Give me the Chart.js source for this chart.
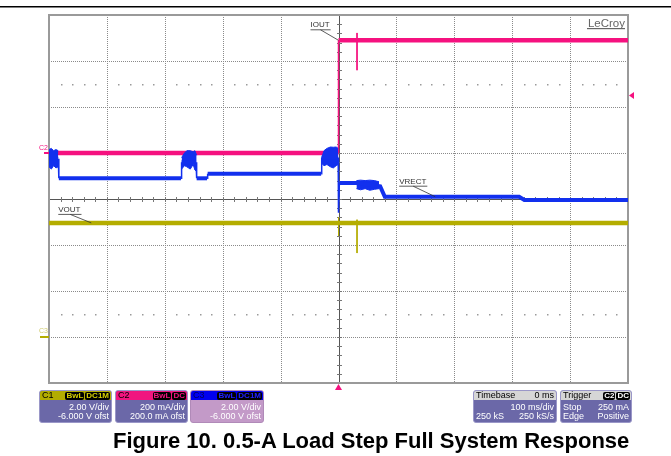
<!DOCTYPE html>
<html><head><meta charset="utf-8">
<script src="https://cdn.jsdelivr.net/npm/chart.js@4.4.1/dist/chart.umd.min.js"></script>
<style>
html,body{margin:0;padding:0;background:#fff;width:671px;height:456px;overflow:hidden;font-family:"Liberation Sans",Arial,sans-serif;}
#wrap{position:relative;width:671px;height:456px;}
canvas{position:absolute;left:0;top:0;}
.box{position:absolute;top:390px;height:33px;border-radius:3px;background:#6b68a8;color:#fff;font-size:9px;overflow:hidden;box-sizing:border-box;border:1px solid #9a97c8;}
.hdr{position:absolute;left:0;right:0;top:0;height:9px;line-height:9px;padding:0 2px;color:#000;}
.r1,.r2{position:absolute;left:2px;right:2px;height:9px;line-height:9px;}
.r1{top:12px}.r2{top:21px}
.rt{position:absolute;right:0;top:0}
.lt{position:absolute;left:0;top:0}
.bd{display:inline-block;background:#000;border-radius:2px;padding:0 1px;margin-left:1px;font-size:8px;line-height:8px;font-weight:bold;}
#cap{position:absolute;left:113px;top:429px;font-size:22px;font-weight:bold;color:#000;white-space:nowrap;line-height:24px;}
</style></head>
<body><div id="wrap">
<canvas id="c" width="671" height="456"></canvas>
<div class="box" style="left:39px;width:73px;">
  <div class="hdr" style="background:#b3ac00;">C1<span class="rt" style="right:1px;top:0"><span class="bd" style="color:#d8d000">BwL</span><span class="bd" style="color:#d8d000">DC1M</span></span></div>
  <div class="r1"><span class="rt">2.00 V/div</span></div>
  <div class="r2"><span class="rt">-6.000 V ofst</span></div>
</div>
<div class="box" style="left:115px;width:73px;">
  <div class="hdr" style="background:#f0157f;">C2<span class="rt" style="right:1px;top:0"><span class="bd" style="color:#f0157f">BwL</span><span class="bd" style="color:#f0157f">DC</span></span></div>
  <div class="r1"><span class="rt">200 mA/div</span></div>
  <div class="r2"><span class="rt">200.0 mA ofst</span></div>
</div>
<div class="box" style="left:190px;width:74px;background:#c39ac8;border-color:#b08ab8;">
  <div class="hdr" style="background:#0000f0;color:#000060;">C3<span class="rt" style="right:1px;top:0"><span class="bd" style="color:#2020ff">BwL</span><span class="bd" style="color:#2020ff">DC1M</span></span></div>
  <div class="r1"><span class="rt">2.00 V/div</span></div>
  <div class="r2"><span class="rt">-6.000 V ofst</span></div>
</div>
<div class="box" style="left:473px;width:84px;">
  <div class="hdr" style="background:#d6d6d6;">Timebase<span class="rt" style="right:2px">0 ms</span></div>
  <div class="r1"><span class="rt">100 ms/div</span></div>
  <div class="r2"><span class="lt">250 kS</span><span class="rt">250 kS/s</span></div>
</div>
<div class="box" style="left:560px;width:72px;">
  <div class="hdr" style="background:#d6d6d6;">Trigger<span class="rt" style="right:1px"><span class="bd" style="color:#fff">C2</span><span class="bd" style="color:#fff">DC</span></span></div>
  <div class="r1"><span class="lt">Stop</span><span class="rt">250 mA</span></div>
  <div class="r2"><span class="lt">Edge</span><span class="rt">Positive</span></div>
</div>
<div id="cap">Figure 10. 0.5-A Load Step Full System Response</div>
</div>
<script>
// ---- scope setup: 100 ms/div, 10 divisions; trigger at 0 ms ----
const timeRange = [-500, 500];          // ms
const voltRange = [-2, 14];             // C1 / C3: 2.00 V/div, -6.000 V ofst
const currRange = [-1000, 600];         // C2: 200 mA/div, 200.0 mA ofst
const timeDivs = [-400, -300, -200, -100, 0, 100, 200, 300, 400];
const voltDivs = [0, 2, 4, 6, 8, 10, 12];
const centerV = 6;

// ---- IOUT (C2, mA) ----
const ioutT = [-500, 0, 0, 500];
const ioutI = [0, 0, 490, 490];
const ioutSpikeT = [32, 32];
const ioutSpikeI = [522, 360];

// ---- VOUT (C1, V) ----
const voutT = [-500, 500];
const voutV = [4.96, 4.96];
const voutSpikeT = [32, 32];
const voutSpikeV = [5.1, 3.65];
const voutStepT = [0, 0];
const voutStepV = [5.2, 4.4];

// ---- VRECT (C3, V) ----
const vrectT = [-500, -484, -483, -272, -271, -246, -245, -227, -226, -30, -29, -0.5, 0, 1.5, 31, 72, 80, 312, 321, 500];
const vrectV = [7.75, 7.75, 6.9, 6.9, 7.6, 7.6, 6.9, 6.9, 7.1, 7.1, 7.8, 7.8, 5.4, 6.7, 6.7, 6.55, 6.1, 6.1, 5.96, 5.96];
// noisy (switching) bands: time, upper envelope, lower envelope
const band1T = [-500, -496, -492, -488, -484];
const band1Hi = [8.15, 8.2, 8.1, 8.15, 8.1];
const band1Lo = [7.4, 7.3, 7.45, 7.35, 7.4];
const band2T = [-271, -266, -262, -256, -251, -248, -245];
const band2Hi = [7.8, 8.0, 8.1, 8.1, 8.05, 8.1, 7.9];
const band2Lo = [7.3, 7.45, 7.4, 7.3, 7.5, 7.26, 7.2];
const band3T = [-29, -25, -20, -14, -9, -4, -0.5];
const band3Hi = [7.8, 8.1, 8.2, 8.26, 8.25, 8.26, 8.2];
const band3Lo = [7.55, 7.45, 7.5, 7.4, 7.35, 7.45, 7.5];
const band4T = [31, 38, 46, 54, 62, 70];
const band4Hi = [6.8, 6.82, 6.8, 6.82, 6.8, 6.75];
const band4Lo = [6.45, 6.4, 6.45, 6.38, 6.42, 6.45];

const MAG = '#f5117f', BLU = '#1230ee', YEL = '#b4ad00';
const pts = (t, v) => t.map((x, i) => ({x, y: v[i]}));
const thinVert = {borderWidth: c => Math.abs(c.p1.x - c.p0.x) < 2 ? 1.5 : undefined};

function line(d, color, w, axis, order, extra) {
  return Object.assign({data: d, borderColor: color, backgroundColor: color, borderWidth: w, yAxisID: axis,
    pointRadius: 0, tension: 0, fill: false, order: order, borderCapStyle: 'butt'}, extra || {});
}

const datasets = [
  line(pts(vrectT, vrectV), BLU, 4, 'yV', 1, {segment: thinVert}),
  line(pts(band1T, band1Hi), BLU, 1, 'yV', 1),
  line(pts(band1T, band1Lo), BLU, 1, 'yV', 1, {fill: '-1'}),
  line(pts(band2T, band2Hi), BLU, 1, 'yV', 1),
  line(pts(band2T, band2Lo), BLU, 1, 'yV', 1, {fill: '-1'}),
  line(pts(band3T, band3Hi), BLU, 1, 'yV', 1),
  line(pts(band3T, band3Lo), BLU, 1, 'yV', 1, {fill: '-1'}),
  line(pts(band4T, band4Hi), BLU, 1, 'yV', 1),
  line(pts(band4T, band4Lo), BLU, 1, 'yV', 1, {fill: '-1'}),
  line(pts(ioutT, ioutI), MAG, 4.5, 'yI', 2, {segment: thinVert}),
  line(pts(ioutSpikeT, ioutSpikeI), MAG, 1, 'yI', 2),
  line(pts(voutT, voutV), YEL, 4.5, 'yV', 3),
  line(pts(voutSpikeT, voutSpikeV), YEL, 1, 'yV', 3),
  line(pts(voutStepT, voutStepV), YEL, 1, 'yV', 3),
];

const scopeGrid = {
  id: 'scopeGrid',
  beforeDatasetsDraw(chart) {
    const {ctx, chartArea: a, scales: {x, yV}} = chart;
    ctx.save();
    // top rule of the page
    ctx.fillStyle = '#000';
    ctx.fillRect(0, 6, 671, 1.5);
    // dotted division grid
    ctx.strokeStyle = '#8a8a8a'; ctx.lineWidth = 1; ctx.setLineDash([1, 1]);
    const seg = (x1, y1, x2, y2) => { ctx.beginPath(); ctx.moveTo(x1, y1); ctx.lineTo(x2, y2); ctx.stroke(); };
    timeDivs.forEach(t => { if (t === 0) return; const p = Math.round(x.getPixelForValue(t)) + 0.5; seg(p, a.top, p, a.bottom); });
    voltDivs.forEach(v => { if (v === centerV) return; const p = Math.round(yV.getPixelForValue(v)) + 0.5; seg(a.left, p, a.right, p); });
    ctx.setLineDash([]);
    // minor dot rows
    ctx.fillStyle = '#9a9a9a';
    [11, 1].forEach(v => {
      const py = Math.round(yV.getPixelForValue(v));
      for (let t = -480; t < 500; t += 20) { if (t % 100 === 0) continue; ctx.fillRect(Math.round(x.getPixelForValue(t)), py, 1.5, 1.5); }
    });
    // center cross with ticks
    const cx = Math.round(x.getPixelForValue(0)) + 0.5, cy = Math.round(yV.getPixelForValue(centerV)) + 0.5;
    ctx.strokeStyle = '#555'; ctx.lineWidth = 1;
    seg(cx, a.top, cx, a.bottom); seg(a.left, cy, a.right, cy);
    ctx.strokeStyle = '#777';
    for (let t = -480; t < 500; t += 20) { const p = Math.round(x.getPixelForValue(t)) + 0.5; seg(p, cy - 2.5, p, cy + 2.5); }
    for (let v = voltRange[0] + 0.4; v < voltRange[1]; v += 0.4) { const p = Math.round(yV.getPixelForValue(v)) + 0.5; seg(cx - 2.5, p, cx + 2.5, p); }
    // frame
    ctx.strokeStyle = '#9a9a9a'; ctx.lineWidth = 2;
    ctx.strokeRect(a.left, a.top, a.right - a.left, a.bottom - a.top);
    ctx.restore();
  },
  afterDatasetsDraw(chart) {
    const {ctx, chartArea: a, scales: {x, yV, yI}} = chart;
    ctx.save();
    ctx.font = '8px "Liberation Sans", Arial, sans-serif';
    ctx.fillStyle = '#333'; ctx.strokeStyle = '#333'; ctx.lineWidth = 0.8;
    const seg = (x1, y1, x2, y2) => { ctx.beginPath(); ctx.moveTo(x1, y1); ctx.lineTo(x2, y2); ctx.stroke(); };
    function tag(text, px, py, dx, dy, legX) {
      ctx.fillText(text, px + dx, py + dy);
      const w = ctx.measureText(text).width;
      seg(px + dx, py + dy + 2.5, px + dx + w + 1, py + dy + 2.5);
      seg(px + dx + legX, py + dy + 2.5, px, py);
    }
    tag('IOUT', x.getPixelForValue(0), yI.getPixelForValue(490), -28, -13, 10);
    tag('VRECT', x.getPixelForValue(167), yV.getPixelForValue(6.1), -36, -13, 14);
    tag('VOUT', x.getPixelForValue(-427), yV.getPixelForValue(4.96), -33, -11, 12);
    // LeCroy logo
    ctx.font = '11.5px "Liberation Sans", Arial, sans-serif';
    ctx.fillStyle = '#666';
    ctx.textAlign = 'right';
    ctx.fillText('LeCroy', a.right - 3, a.top + 12);
    ctx.fillRect(a.right - 41, a.top + 13, 38, 1.2);
    ctx.textAlign = 'left';
    // channel ground markers
    ctx.font = '7px "Liberation Sans", Arial, sans-serif';
    const g2 = yI.getPixelForValue(0);
    ctx.fillStyle = MAG; ctx.fillText('C2', a.left - 10, g2 - 3);
    ctx.fillRect(a.left - 5, g2 - 1, 5, 2);
    const g1 = yV.getPixelForValue(0);
    ctx.fillStyle = '#d0cc70'; ctx.fillText('C3', a.left - 10, g1 - 4);
    ctx.fillStyle = YEL; ctx.fillRect(a.left - 9, g1 - 1, 9, 2);
    // trigger level marker (250 mA) on the right
    const tl = yI.getPixelForValue(250);
    ctx.fillStyle = MAG;
    ctx.beginPath(); ctx.moveTo(a.right + 1, tl); ctx.lineTo(a.right + 6, tl - 3.5); ctx.lineTo(a.right + 6, tl + 3.5); ctx.closePath(); ctx.fill();
    // trigger time marker at bottom
    const tx = x.getPixelForValue(0);
    ctx.beginPath(); ctx.moveTo(tx, a.bottom + 1); ctx.lineTo(tx - 3.5, a.bottom + 7); ctx.lineTo(tx + 3.5, a.bottom + 7); ctx.closePath(); ctx.fill();
    ctx.restore();
  }
};

new Chart(document.getElementById('c'), {
  type: 'line',
  data: {datasets},
  options: {
    responsive: false, animation: false, devicePixelRatio: 1,
    layout: {padding: {left: 49, right: 43, top: 15, bottom: 73}},
    plugins: {legend: {display: false}, tooltip: {enabled: false}},
    events: [],
    scales: {
      x: {type: 'linear', min: timeRange[0], max: timeRange[1], display: false},
      yV: {type: 'linear', min: voltRange[0], max: voltRange[1], display: false},
      yI: {type: 'linear', min: currRange[0], max: currRange[1], display: false}
    }
  },
  plugins: [scopeGrid]
});
</script>
</body></html>
